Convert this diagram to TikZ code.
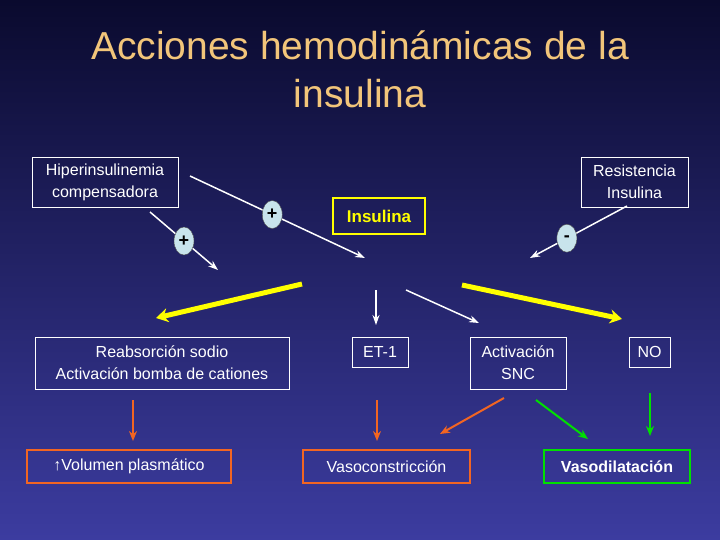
\documentclass[tikz,border=0pt]{standalone}
\usepackage{fontspec}
\setmainfont{Liberation Sans}
\usetikzlibrary{arrows.meta,shapes.geometric,calc}
\definecolor{ttl}{HTML}{F2C57A}
\definecolor{yel}{HTML}{FFFF00}
\definecolor{org}{HTML}{F26522}
\definecolor{grn}{HTML}{00E000}
\definecolor{bgtop}{HTML}{0A0A2E}
\definecolor{bgbot}{HTML}{3C3CA0}
\definecolor{circ}{HTML}{C8E4EC}
\begin{document}
\begin{tikzpicture}[x=1pt,y=-1pt,
  wbox/.style={draw=white,line width=0.8pt,text=white,align=center,font=\fontsize{16}{22}\selectfont,inner sep=3pt},
  sign/.style={ellipse,draw=gray!60!black,fill=circ,minimum width=20pt,minimum height=28pt,inner sep=0pt,font=\bfseries\fontsize{18}{18}\selectfont},
  warr/.style={draw=white,line width=1.5pt,-{Stealth[length=10pt,width=7pt]}},
  yarr/.style={draw=yel,line width=5pt,-{Stealth[length=12pt,width=14pt]}},
  oarr/.style={draw=org,line width=2pt,-{Stealth[length=10pt,width=8pt]}},
  garr/.style={draw=grn,line width=2pt,-{Stealth[length=10pt,width=8pt]}}]
\shade[top color=bgtop,bottom color=bgbot] (0,0) rectangle (720,540);
\useasboundingbox (0,0) rectangle (720,540);
\node[text=ttl,align=center,font=\fontsize{39}{48}\selectfont] (title) at (360,69) {Acciones hemodinámicas de la\\insulina};
\node[wbox,minimum width=146pt,minimum height=50pt] (hip) at (105,182) {Hiperinsulinemia\\compensadora};
\node[wbox,minimum width=107pt,minimum height=50pt] (res) at (634.5,182) {Resistencia\\Insulina};
\node[draw=yel,line width=2pt,text=yel,font=\bfseries\fontsize{17}{20}\selectfont,minimum width=92pt,minimum height=35pt] (ins) at (379,216) {Insulina};
\node[wbox,minimum width=254pt,minimum height=52pt] (rea) at (162,363) {Reabsorción sodio\\Activación bomba de cationes};
\node[wbox,minimum width=56pt,minimum height=30pt] (et) at (380,352) {ET-1};
\node[wbox,minimum width=96pt,minimum height=52pt] (snc) at (518,363) {Activación\\SNC};
\node[wbox,minimum width=41pt,minimum height=30pt] (no) at (649.5,352) {NO};
\node[draw=org,line width=2.5pt,text=white,font=\fontsize{16}{18}\selectfont,minimum width=204pt,minimum height=33pt] (vol) at (129,466.5) {↑Volumen plasmático};
\node[draw=org,line width=2.5pt,text=white,font=\fontsize{16}{18}\selectfont,minimum width=167pt,minimum height=33pt] (vc) at (386.5,466.5) {Vasoconstricción};
\node[draw=grn,line width=2.5pt,text=white,font=\bfseries\fontsize{16}{18}\selectfont,minimum width=146pt,minimum height=33pt] (vd) at (617,466.5) {Vasodilatación};
\coordinate (a1) at (150,212); \coordinate (a1e) at (218,270);
\coordinate (a2) at (190,176); \coordinate (a2e) at (365,258);
\coordinate (a3) at (627,206); \coordinate (a3e) at (530,258);
\draw[warr] (a1) -- (a1e);
\draw[warr] (a2) -- (a2e);
\draw[warr] (a3) -- (a3e);
\node[sign] (p1) at ($(a1)!0.5!(a1e)$) {+};
\node[sign] (p2) at ($(a2)!0.47!(a2e)$) {+};
\node[sign] (m1) at ($(a3)!0.62!(a3e)$) {-};
\coordinate (i1) at (376,290); \coordinate (i1e) at (376,325);
\coordinate (i2) at (406,290); \coordinate (i2e) at (479,323);
\draw[warr] (i1) -- (i1e);
\draw[warr] (i2) -- (i2e);
\coordinate (y1) at (302,284); \coordinate (y1e) at (156,318);
\coordinate (y2) at (462,285); \coordinate (y2e) at (622,319);
\draw[yarr] (y1) -- (y1e);
\draw[yarr] (y2) -- (y2e);
\coordinate (o1) at (133,400); \coordinate (o1e) at (133,441);
\coordinate (o2) at (377,400); \coordinate (o2e) at (377,441);
\coordinate (o3) at (504,398); \coordinate (o3e) at (440,434);
\coordinate (g1) at (536,400); \coordinate (g1e) at (588,439);
\coordinate (g2) at (650,393); \coordinate (g2e) at (650,436);
\draw[oarr] (o1) -- (o1e);
\draw[oarr] (o2) -- (o2e);
\draw[oarr] (o3) -- (o3e);
\draw[garr] (g1) -- (g1e);
\draw[garr] (g2) -- (g2e);
\end{tikzpicture}
\end{document}
